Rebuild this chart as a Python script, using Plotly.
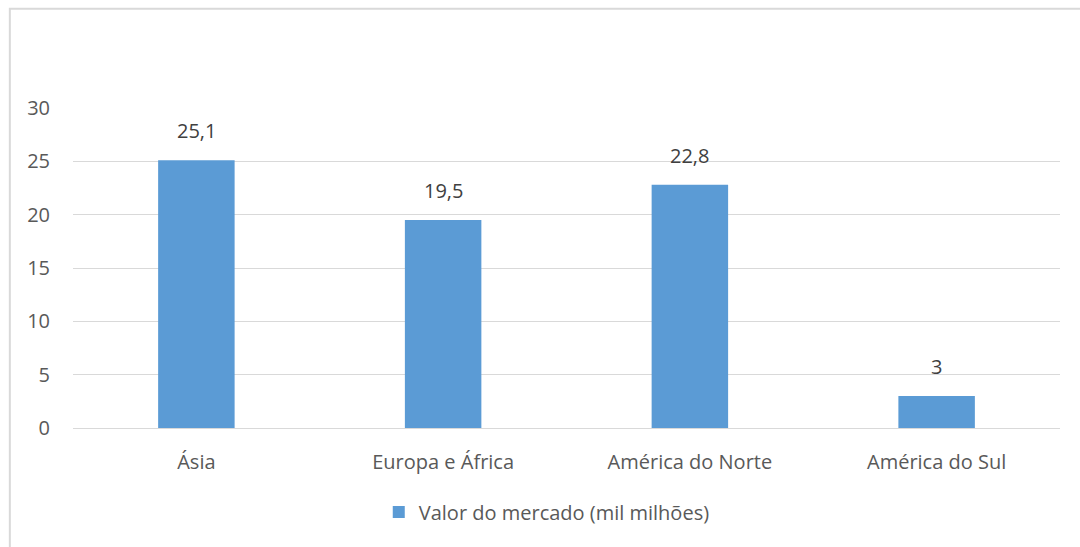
import plotly.graph_objects as go

categories = ["Ásia", "Europa e África", "América do Norte", "América do Sul"]
values = [25.1, 19.5, 22.8, 3]
series_name = "Valor do mercado (mil milhões)"

font_family = "'Open Sans', sans-serif"
text_color = "#595959"

fig = go.Figure()
fig.add_trace(go.Bar(
    x=categories, y=values, name=series_name,
    marker=dict(color="#5B9BD5", line=dict(width=0)),
    showlegend=True,
))

for c, v in zip(categories, values):
    fig.add_annotation(x=c, y=v, text=f"{v}".replace(".", ","), showarrow=False,
                       yanchor="bottom", yshift=14,
                       font=dict(size=20, color="#404040", family=font_family))

fig.add_shape(type="rect", xref="paper", yref="paper",
              x0=-0.064, x1=1.1, y0=-0.5, y1=1.31,
              line=dict(color="#D9D9D9", width=2), layer="below")

fig.update_layout(
    width=1080, height=547,
    margin=dict(l=73, r=20, t=108, b=119),
    paper_bgcolor="white", plot_bgcolor="white",
    bargap=0.69,
    separators=",.",
    font=dict(family=font_family, color=text_color, size=20),
    legend=dict(orientation="h", x=0.48, xanchor="center", y=-0.2625, yanchor="middle",
                font=dict(size=20, color=text_color), itemwidth=30),
    xaxis=dict(showgrid=False, showline=True, linecolor="#D9D9D9", linewidth=1,
               ticks="", ticklabelstandoff=16, tickfont=dict(size=20, color=text_color)),
    yaxis=dict(range=[0, 30], dtick=5, showgrid=True, gridcolor="#D9D9D9", gridwidth=1,
               zeroline=False, showline=False, ticks="", ticklabelstandoff=22,
               tickfont=dict(size=20, color=text_color)),
)

fig.write_html("out.html")
